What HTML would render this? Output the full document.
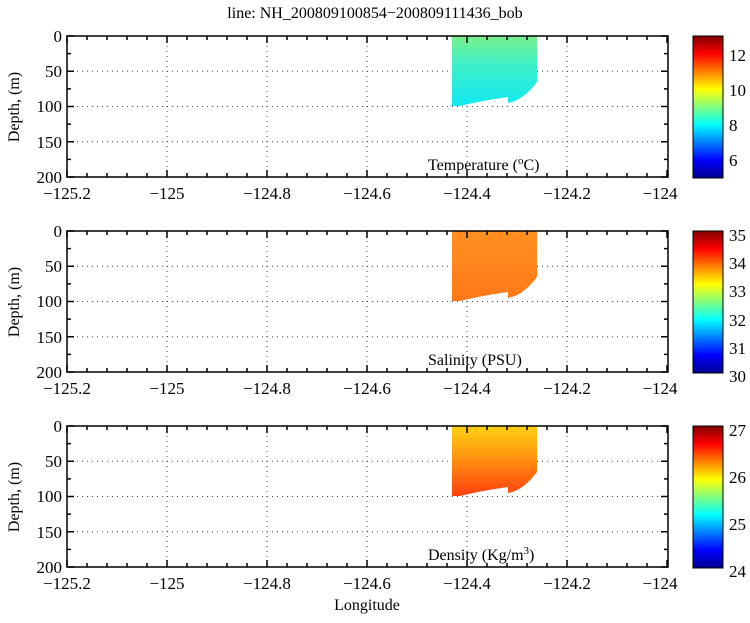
<!DOCTYPE html>
<html><head><meta charset="utf-8"><style>
html,body{margin:0;padding:0;background:#fff;}
svg, svg text{font-family:"Liberation Serif","Times New Roman",serif;}
</style></head><body>
<svg id="s" width="750" height="618" viewBox="0 0 750 618" xmlns="http://www.w3.org/2000/svg" font-family="Liberation Serif, serif">
<defs>
<linearGradient id="jet" x1="0" y1="1" x2="0" y2="0">
<stop offset="0" stop-color="#00008f"/><stop offset="0.125" stop-color="#0000ff"/>
<stop offset="0.375" stop-color="#00ffff"/><stop offset="0.625" stop-color="#ffff00"/>
<stop offset="0.875" stop-color="#ff0000"/><stop offset="1" stop-color="#800000"/>
</linearGradient>
<linearGradient id="gT" x1="0" y1="0" x2="0" y2="1">
<stop offset="0" stop-color="#7af08a"/><stop offset="0.4" stop-color="#40f0c8"/><stop offset="1" stop-color="#10e8f0"/>
</linearGradient>
<linearGradient id="gS" x1="0" y1="0" x2="0" y2="1">
<stop offset="0" stop-color="#ff9020"/><stop offset="1" stop-color="#ff7818"/>
</linearGradient>
<linearGradient id="gD" x1="0" y1="0" x2="0" y2="1">
<stop offset="0" stop-color="#ffd010"/><stop offset="0.4" stop-color="#ff9a10"/><stop offset="1" stop-color="#ff4010"/>
</linearGradient>
</defs>
<g id="grid"></g>
<path d="M452,36 L537,36 L537,82 Q525,98 512,102 L508,103 L508,97 Q480,101 460,106 L452,106 Z" fill="url(#gT)"/>
<path d="M452,231 L537,231 L537,277 Q525,293 512,297 L508,298 L508,292 Q480,296 460,301 L452,301 Z" fill="url(#gS)"/>
<path d="M452,426 L537,426 L537,472 Q525,488 512,492 L508,493 L508,487 Q480,491 460,496 L452,496 Z" fill="url(#gD)"/>
<g id="axes"></g>
<rect x="693" y="36" width="30" height="142" fill="url(#jet)" stroke="#000"/>
<rect x="693" y="231" width="30" height="142" fill="url(#jet)" stroke="#000"/>
<rect x="693" y="426" width="30" height="142" fill="url(#jet)" stroke="#000"/>
<g font-size="17" fill="#000" font-family="Liberation Serif, serif">
<text x="375" y="18" text-anchor="middle" font-size="16">line: NH_200809100854−200809111436_bob</text>
<text x="729" y="61">12</text><text x="729" y="96">10</text><text x="729" y="131">8</text><text x="729" y="166">6</text>
<text x="729" y="241">35</text><text x="729" y="269">34</text><text x="729" y="297">33</text><text x="729" y="326">32</text><text x="729" y="354">31</text><text x="729" y="382">30</text>
<text x="729" y="436">27</text><text x="729" y="483">26</text><text x="729" y="530">25</text><text x="729" y="577">24</text>
<text x="428" y="170" font-size="16">Temperature (<tspan font-size="11" dy="-6">o</tspan><tspan dy="6">C)</tspan></text>
<text x="428" y="365" font-size="16">Salinity (PSU)</text>
<text x="428" y="560" font-size="16">Density (Kg/m<tspan font-size="11" dy="-6">3</tspan><tspan dy="6">)</tspan></text>
<text x="367" y="610" text-anchor="middle" font-size="16">Longitude</text>
<text transform="translate(19,107) rotate(-90)" text-anchor="middle" font-size="16">Depth, (m)</text>
<text transform="translate(19,302) rotate(-90)" text-anchor="middle" font-size="16">Depth, (m)</text>
<text transform="translate(19,497) rotate(-90)" text-anchor="middle" font-size="16">Depth, (m)</text>
<g text-anchor="end">
<text x="62" y="42">0</text><text x="62" y="77">50</text><text x="62" y="112">100</text><text x="62" y="148">150</text><text x="62" y="183">200</text>
<text x="62" y="237">0</text><text x="62" y="272">50</text><text x="62" y="307">100</text><text x="62" y="343">150</text><text x="62" y="378">200</text>
<text x="62" y="432">0</text><text x="62" y="467">50</text><text x="62" y="502">100</text><text x="62" y="538">150</text><text x="62" y="573">200</text>
</g>
<g text-anchor="middle">
<text x="67" y="199">−125.2</text><text x="167" y="199">−125</text><text x="267" y="199">−124.8</text><text x="367" y="199">−124.6</text><text x="467" y="199">−124.4</text><text x="567" y="199">−124.2</text><text x="660" y="199">−124</text>
<text x="67" y="394">−125.2</text><text x="167" y="394">−125</text><text x="267" y="394">−124.8</text><text x="367" y="394">−124.6</text><text x="467" y="394">−124.4</text><text x="567" y="394">−124.2</text><text x="660" y="394">−124</text>
<text x="67" y="589">−125.2</text><text x="167" y="589">−125</text><text x="267" y="589">−124.8</text><text x="367" y="589">−124.6</text><text x="467" y="589">−124.4</text><text x="567" y="589">−124.2</text><text x="660" y="589">−124</text>
</g>
</g>
</svg>
<script>
var NS="http://www.w3.org/2000/svg",g=document.getElementById("grid"),a=document.getElementById("axes");
function L(p,x1,y1,x2,y2,st){var l=document.createElementNS(NS,"line");l.setAttribute("x1",x1);l.setAttribute("y1",y1);l.setAttribute("x2",x2);l.setAttribute("y2",y2);l.setAttribute("stroke","#000");l.setAttribute("stroke-width",st?1:1.5);if(st){l.setAttribute("stroke-dasharray","1,4");l.setAttribute("stroke","#444");}p.appendChild(l);}
[36,231,426].forEach(function(T){var B=T+141,Lx=67,R=668;
for(var i=1;i<6;i++){L(g,Lx+i*100,T,Lx+i*100,B,1);}
for(var j=1;j<4;j++){var y=T+j*35.25;L(g,Lx,y,R,y,1);}
var r=document.createElementNS(NS,"rect");r.setAttribute("x",Lx);r.setAttribute("y",T);r.setAttribute("width",R-Lx);r.setAttribute("height",B-T);r.setAttribute("fill","none");r.setAttribute("stroke","#000");r.setAttribute("stroke-width",1.5);a.appendChild(r);
for(var k=0;k<=30;k++){var x=Lx+k*20;var len=(k%5==0)?7:4;L(a,x,T,x,T+len);L(a,x,B,x,B-len);}
for(var k=0;k<=8;k++){var y=T+k*17.625;var len=(k%2==0)?7:4;L(a,Lx,y,Lx+len,y);L(a,R,y,R-len,y);}
});
</script>
</body></html>
